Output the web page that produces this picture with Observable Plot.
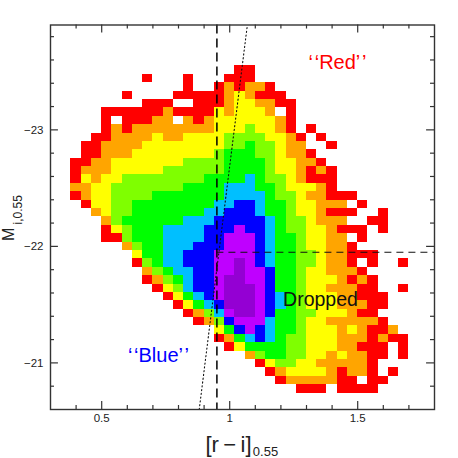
<!DOCTYPE html>
<html>
<head>
<meta charset="utf-8">
<style>html,body{margin:0;padding:0;background:#fff}</style>
<script src="https://cdn.jsdelivr.net/npm/d3@7"></script>
<script src="https://cdn.jsdelivr.net/npm/@observablehq/plot@0.6"></script>
</head>
<body>
<div id="chart"></div>
<script>
const xOrigin = 0.38, xBin = 0.04;
const yOrigin = -23.549, yBin = 0.072;
const levels = ["1","2","3","4","5","6","7","8","9"];
const levelColors = ["#ff0000","#ffa500","#ffff00","#7fff00","#00ff00","#00bfff","#0000ff","#bf00ff","#9400d3"];
const rows = [
"................11",
".......1...1...111",
"...........1..121221",
".....1....11111232111",
".......111..1112332211",
"...11111121111323332.1",
"...1.11122.21233333321",
"...1212222222233343321.1",
"..112222322333344443321.1",
".1122223333333344544322..1",
".11222333333334555443221",
"1122333333344445555433221",
"12223333344444455554332121",
"13233444444445555654432111",
"22334444444555566655433321",
"1233444455555556666544322111",
".13344555555556677655433222.1",
"..23445555555667776554332111..1",
"...245555556667777765443222..11",
"...13455566667778776544332111.1",
"...114555666677888765543322.1",
".....24556667778887655433221",
"......355667778888765544322111",
"......1456677788987655443221.1..1",
".......2456677889887554332221",
".......12456778998875543332121",
"........1346778999875543322211..1",
".........1356789998765433322111",
"..........135679998765433322211",
"...........1246899875544333211",
"............1247888655433222221",
"..............357876554333232112",
"..............1256765443332221211",
"...............1355554433322111.1",
".................24554433232211.1",
"..................134433222221",
"...................12333321221.1",
"....................12222211.11",
"......................111.1111"
];
const cells = rows.flatMap((row, r) => [...row].flatMap((level, c) => level === "." ? [] : [{
  x1: xOrigin + c * xBin, x2: xOrigin + (c + 1) * xBin,
  y1: yOrigin + r * yBin, y2: yOrigin + (r + 1) * yBin, level
}]));

const xDomain = [0.3, 1.8], yDomain = [-20.6, -23.9];
const xMajor = [0.5, 1, 1.5];
const xMinor = [0.4,0.6,0.7,0.8,0.9,1.1,1.2,1.3,1.4,1.6,1.7];
const yMajor = [-23, -22, -21];
const yMinor = [-23.8,-23.6,-23.4,-23.2,-22.8,-22.6,-22.4,-22.2,-21.8,-21.6,-21.4,-21.2,-20.8];
const xTickMajor = 0.031, xTickMinor = 0.0156;   // tick length along x
const yTickMajor = 0.069, yTickMinor = 0.0345;   // tick length along y
const cutColor = 0.95;
const cutMag = -21.95;
const diagonal = [{x: 0.881, y: -20.6}, {x: 1.069, y: -23.9}];
const ink = "#333";
const big = "Liberation Sans";
const mid = {textAnchor: "middle", lineAnchor: "middle"};
const tk = {stroke: ink, strokeWidth: 1.2};
const xTicks = (data, len) => [
  Plot.ruleX(data, {x: d => d, y1: yDomain[0], y2: yDomain[0] - len, ...tk}),
  Plot.ruleX(data, {x: d => d, y1: yDomain[1], y2: yDomain[1] + len, ...tk})
];
const yTicks = (data, len) => [
  Plot.ruleY(data, {y: d => d, x1: xDomain[0], x2: xDomain[0] + len, ...tk}),
  Plot.ruleY(data, {y: d => d, x1: xDomain[1], x2: xDomain[1] - len, ...tk})
];

const chart = Plot.plot({
  width: 458, height: 458,
  marginLeft: 50, marginRight: 24, marginTop: 24.5, marginBottom: 49,
  style: {fontFamily: big, background: "#fff"},
  x: {domain: xDomain},
  y: {domain: yDomain},
  color: {type: "ordinal", domain: levels, range: levelColors},
  marks: [
    Plot.rect(cells, {x1: "x1", x2: "x2", y1: "y1", y2: "y2", fill: "level", shapeRendering: "crispEdges"}),
    Plot.ruleX([cutColor], {stroke: "#000", strokeWidth: 1.5, strokeDasharray: "9,5"}),
    Plot.ruleY([cutMag], {x1: cutColor, x2: xDomain[1], stroke: "#111", strokeWidth: 1.1, strokeDasharray: "7,5"}),
    Plot.line(diagonal, {x: "x", y: "y", stroke: "#111", strokeWidth: 1.1, strokeDasharray: "1.2,2.6"}),
    Plot.frame({stroke: ink, strokeWidth: 1.4}),
    xTicks(xMajor, yTickMajor), xTicks(xMinor, yTickMinor),
    yTicks(yMajor, xTickMajor), yTicks(yMinor, xTickMinor),
    Plot.axisX(xMajor, {anchor: "bottom", tickSize: 0, tickPadding: 4, label: null, fontSize: 11.5, fill: "#222", tickFormat: d => d}),
    Plot.axisY(yMajor, {anchor: "left", tickSize: 0, tickPadding: 7, label: null, fontSize: 11.5, fill: "#222", tickFormat: d => "\u2212" + Math.abs(d)}),
    Plot.text(["[r\u2009\u2212\u2009i]"], {frameAnchor: "bottom", ...mid, dx: -14, dy: 35, fontSize: 22, fill: "#222"}),
    Plot.text(["0.55"], {frameAnchor: "bottom", ...mid, dx: 23, dy: 42, fontSize: 13, fill: "#222"}),
    Plot.text(["M"], {frameAnchor: "left", ...mid, rotate: -90, dx: -41.5, dy: 17, fontSize: 16, fill: "#222"}),
    Plot.text(["i,0.55"], {frameAnchor: "left", ...mid, rotate: -90, dx: -32.5, dy: -7.5, fontSize: 12, fill: "#222"}),
    Plot.text(["\u2018\u200a\u2018Red\u2019\u200a\u2019"], {frameAnchor: "top-left", ...mid, dx: 287, dy: 37.5, fontSize: 20, fill: "#ff0000"}),
    Plot.text(["\u2018\u200a\u2018Blue\u2019\u200a\u2019"], {frameAnchor: "top-left", ...mid, dx: 108, dy: 331, fontSize: 20, fill: "#0000ff"}),
    Plot.text(["Dropped"], {frameAnchor: "top-left", ...mid, dx: 270, dy: 275, fontSize: 19.5, fill: "#111"})
  ]
});
document.getElementById("chart").appendChild(chart);
</script>
</body>
</html>
